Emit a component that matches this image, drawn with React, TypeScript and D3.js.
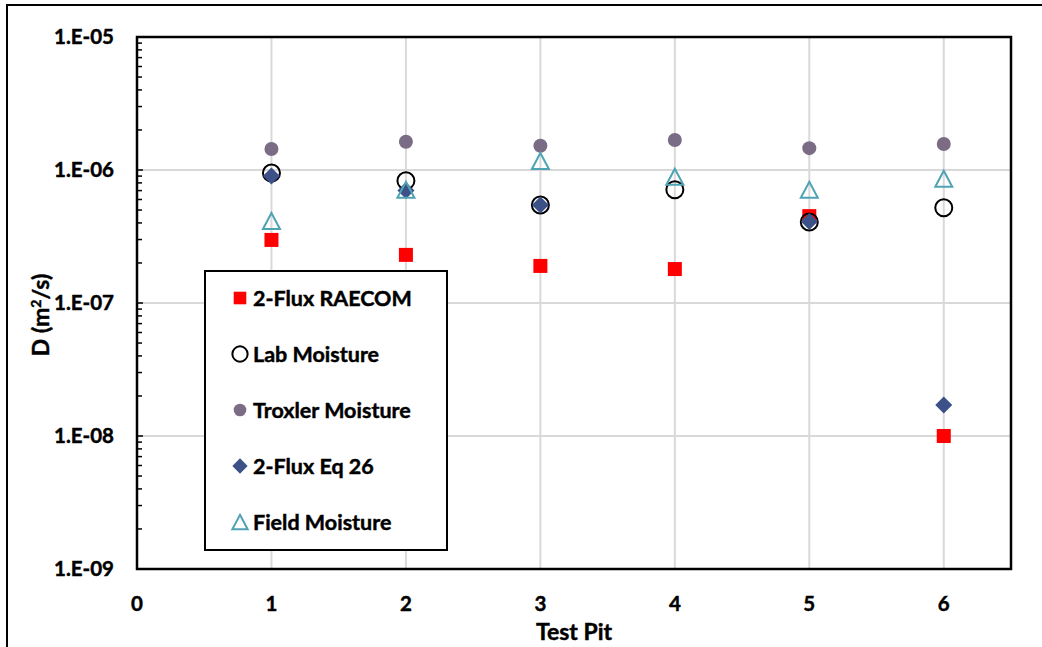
import React from "react";
import * as d3 from "d3";

const pits = [1, 2, 3, 4, 5, 6];
const raecom = [2.98e-7, 2.3e-7, 1.9e-7, 1.8e-7, 4.5e-7, 1.0e-8];
const labMoisture = [9.5e-7, 8.3e-7, 5.45e-7, 7.1e-7, 4.07e-7, 5.2e-7];
const troxler = [1.44e-6, 1.63e-6, 1.52e-6, 1.68e-6, 1.46e-6, 1.57e-6];
const eq26: (number | null)[] = [9.0e-7, 7.0e-7, 5.45e-7, null, 4.1e-7, 1.71e-8];
const fieldMoisture = [4.14e-7, 7.1e-7, 1.17e-6, 8.9e-7, 7.1e-7, 8.6e-7];
const yTicks = [1e-9, 1e-8, 1e-7, 1e-6, 1e-5];
const yTickLabels = ["1.E-09", "1.E-08", "1.E-07", "1.E-06", "1.E-05"];
const xTicks = [0, 1, 2, 3, 4, 5, 6];
const legendLabels = ["2-Flux RAECOM", "Lab Moisture", "Troxler Moisture", "2-Flux Eq 26", "Field Moisture"];

const W = 1042, H = 647;
const M = { left: 137, top: 37, right: 1011, bottom: 569 };
const FONT = "Lato, 'Open Sans', sans-serif";
const RED = "#FF0000", TROX = "#7B6C85", DIA = "#3B5187", TRI = "#4FA3B3";
const TXT = { fontFamily: FONT, fontWeight: 700, stroke: "#000", strokeWidth: 0.45 } as const;

function Marker({ type, x, y, s = 1 }: { type: number; x: number; y: number; s?: number }) {
  if (type === 0) return <rect x={x - 7 * s} y={y - 7 * s} width={14 * s} height={14 * s} fill={RED} />;
  if (type === 1) return <circle cx={x} cy={y} r={8.5 * s} fill="none" stroke="#000" strokeWidth={2} />;
  if (type === 2) return <circle cx={x} cy={y} r={7 * s} fill={TROX} />;
  if (type === 3) {
    const r = 8.5 * s;
    return <path d={`M${x},${y - r}L${x + r},${y}L${x},${y + r}L${x - r},${y}Z`} fill={DIA} />;
  }
  const w = 8.5 * s, h = 8 * s;
  return <path d={`M${x},${y - h}L${x + w},${y + h}L${x - w},${y + h}Z`} fill="none" stroke={TRI} strokeWidth={2} />;
}

export default function App() {
  const x = d3.scaleLinear().domain([0, 6.5]).range([M.left, M.right]);
  const y = d3.scaleLog().domain([1e-9, 1e-5]).range([M.bottom, M.top]);
  const series = [raecom, labMoisture, troxler, eq26, fieldMoisture];

  const minor: number[] = [];
  for (let e = -9; e < -5; e++) for (let k = 2; k <= 9; k++) minor.push(k * Math.pow(10, e));

  return (
    <svg width={W} height={H} style={{ position: "absolute", left: 0, top: 0 }}>
      <rect x={0} y={0} width={W} height={H} fill="#fff" />
      <rect x={7} y={5} width={W + 10} height={H + 10} fill="none" stroke="#000" strokeWidth={2} />
      {xTicks.slice(1).map((t) => (
        <line key={"gx" + t} x1={x(t)} x2={x(t)} y1={M.top} y2={M.bottom} stroke="#D9D9D9" strokeWidth={2} />
      ))}
      {yTicks.slice(1, -1).map((t) => (
        <line key={"gy" + t} x1={M.left} x2={M.right} y1={y(t)} y2={y(t)} stroke="#D9D9D9" strokeWidth={2} />
      ))}
      {minor.map((t, i) => (
        <line key={"mn" + i} x1={M.left} x2={M.left + 5} y1={y(t)} y2={y(t)} stroke="#000" strokeWidth={1.5} />
      ))}
      {yTicks.map((t) => (
        <line key={"mj" + t} x1={M.left} x2={M.left + 6} y1={y(t)} y2={y(t)} stroke="#000" strokeWidth={1.5} />
      ))}
      <rect x={M.left} y={M.top} width={M.right - M.left} height={M.bottom - M.top} fill="none" stroke="#000" strokeWidth={2.5} />
      {series.map((vals, si) =>
        pits.map((p, i) =>
          vals[i] == null ? null : <Marker key={si + "-" + i} type={si} x={x(p)} y={y(vals[i] as number)} />
        )
      )}
      {yTicks.map((t, i) => (
        <text key={"yl" + t} x={114} y={y(t)} dy="0.35em" textAnchor="end" {...TXT} fontSize={20.5}>
          {yTickLabels[i]}
        </text>
      ))}
      {xTicks.map((t) => (
        <text key={"xl" + t} x={x(t)} y={604} dy="0.35em" textAnchor="middle" {...TXT} fontSize={20.5}>
          {t}
        </text>
      ))}
      <text x={(M.left + M.right) / 2} y={632} dy="0.35em" textAnchor="middle" {...TXT} fontSize={23}>
        Test Pit
      </text>
      <text transform={`translate(41,${315}) rotate(-90)`} dy="0.35em" textAnchor="middle" {...TXT} fontSize={23}>
        D (m<tspan baselineShift="super" fontSize={14}>2</tspan>/s)
      </text>
      <rect x={205} y={271} width={242} height={279} fill="#fff" stroke="#000" strokeWidth={2} />
      {legendLabels.map((l, i) => (
        <g key={l}>
          <Marker type={i} x={240} y={298 + i * 56} s={0.9} />
          <text x={253} y={298 + i * 56} dy="0.35em" {...TXT} fontSize={21.5}>
            {l}
          </text>
        </g>
      ))}
    </svg>
  );
}
